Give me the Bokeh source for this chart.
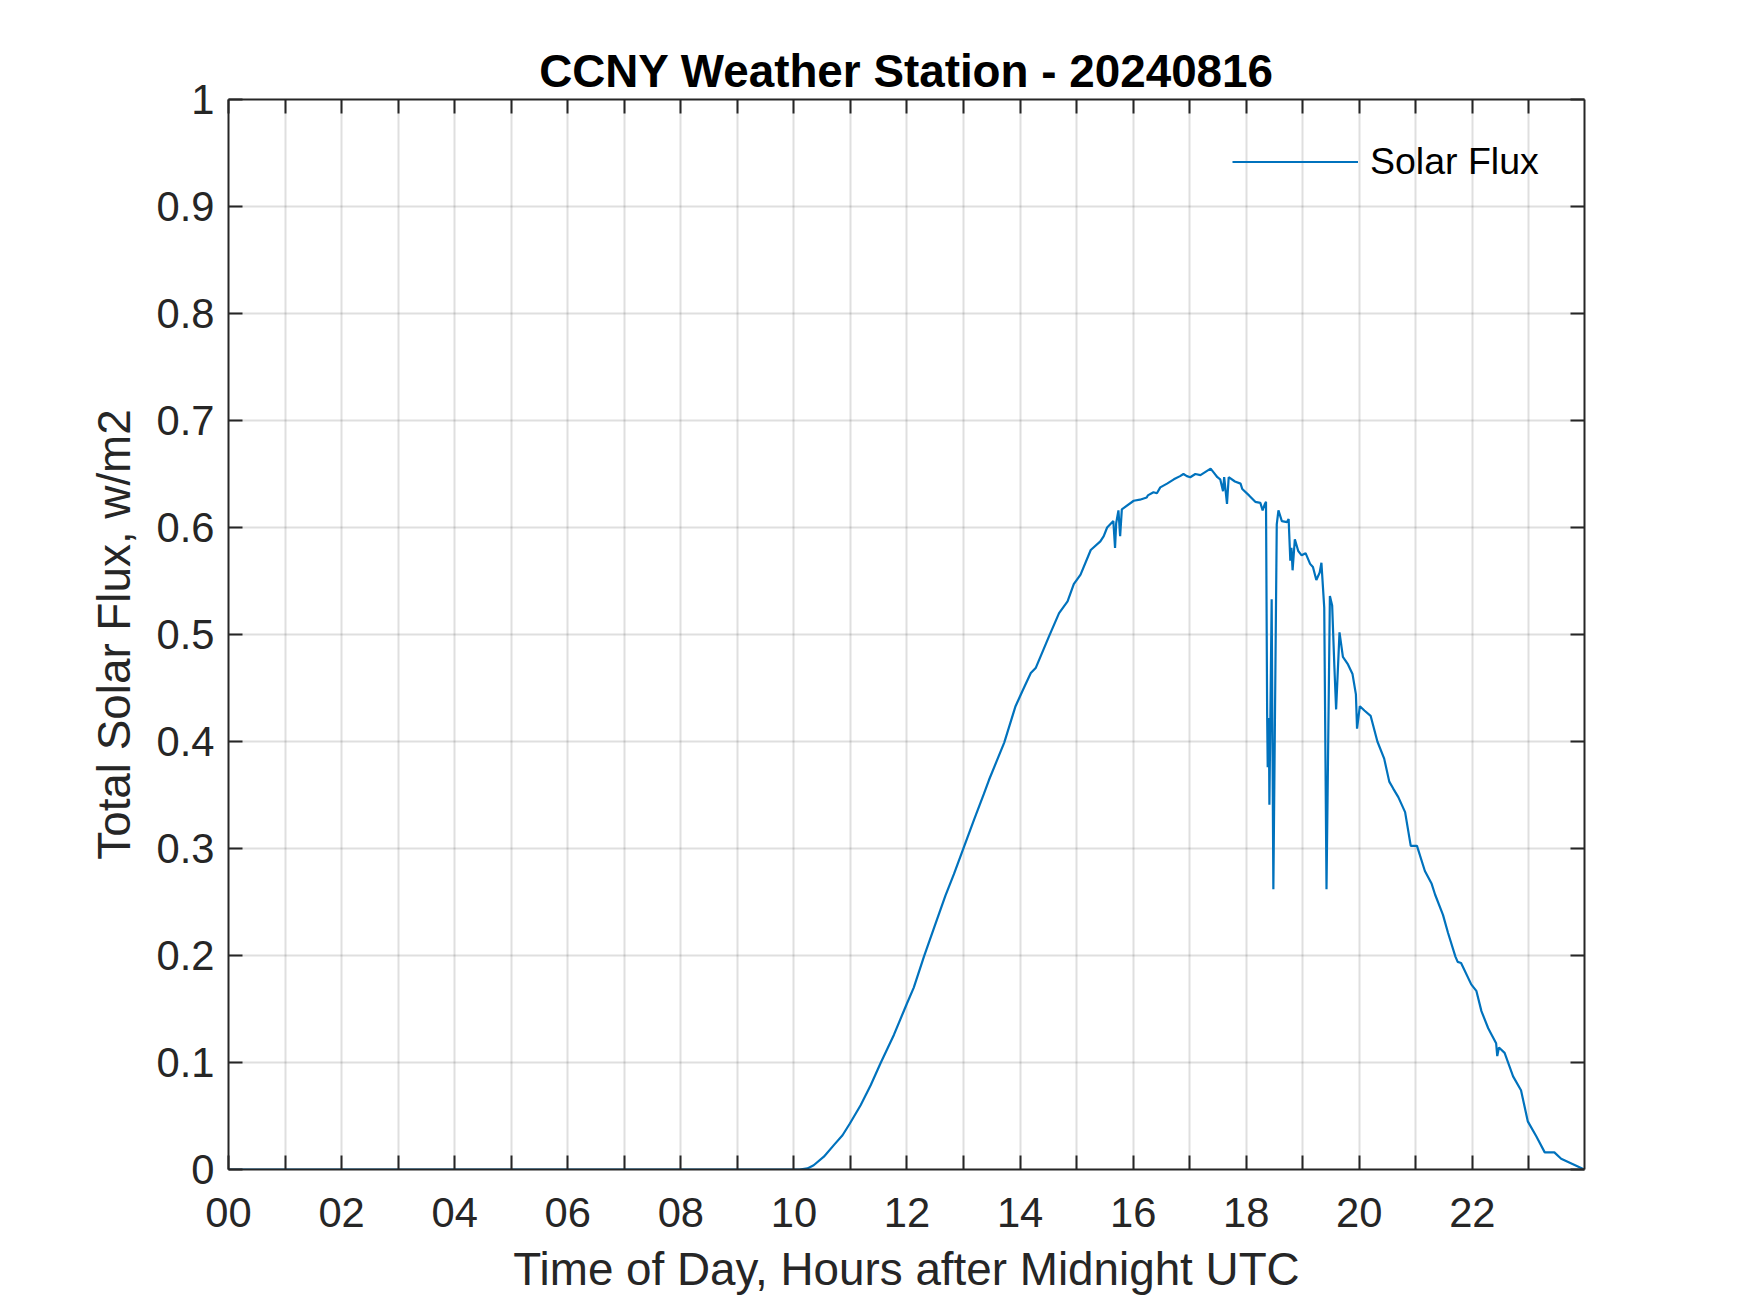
from bokeh.plotting import figure
from bokeh.models import (Range1d, LinearAxis, FixedTicker, CustomJSTickFormatter,
                          Legend, LegendItem, Title)
from bokeh.embed import file_html
from bokeh.resources import INLINE

# ---- data (hours after midnight UTC, total solar flux) ----
hours = [0.0, 10.10, 10.24, 10.35, 10.53, 10.71, 10.86, 10.99, 11.18, 11.36, 11.53,
         11.77, 11.99, 12.12, 12.30, 12.48, 12.68, 12.83, 12.99, 13.19, 13.36,
         13.45, 13.72, 13.92, 14.04, 14.19, 14.28, 14.51, 14.69, 14.84, 14.95,
         15.07, 15.25, 15.42, 15.48, 15.54, 15.65,
         15.68, 15.70, 15.74, 15.77, 15.80, 16.01, 16.12, 16.24, 16.26, 16.36,
         16.42, 16.48, 16.60, 16.72, 16.83, 16.89, 16.95, 17.01, 17.10, 17.19,
         17.28, 17.37, 17.43, 17.49, 17.54, 17.59, 17.61, 17.66, 17.69, 17.80,
         17.90, 17.93, 18.05, 18.16, 18.25, 18.29, 18.33, 18.35, 18.37, 18.38,
         18.40, 18.41, 18.45, 18.48, 18.54, 18.57, 18.63, 18.72, 18.75, 18.78,
         18.80, 18.82, 18.86, 18.92, 18.98, 19.05, 19.13, 19.18, 19.24, 19.30,
         19.33, 19.38, 19.42, 19.48, 19.52, 19.56, 19.59, 19.65, 19.71, 19.80,
         19.88, 19.94, 19.96, 20.01, 20.09, 20.20, 20.32, 20.44, 20.53, 20.60,
         20.69, 20.81, 20.91, 20.98, 21.02, 21.16, 21.28, 21.34, 21.48, 21.57,
         21.70, 21.74, 21.80, 21.98, 22.07, 22.16, 22.28, 22.34, 22.42, 22.44,
         22.47, 22.57, 22.72, 22.86, 22.98, 23.13, 23.28, 23.45, 23.57, 23.98]
flux = [0.0, 0.0, 0.001, 0.004, 0.012, 0.023, 0.032, 0.043, 0.060, 0.079, 0.099,
        0.126, 0.154, 0.170, 0.199, 0.226, 0.256, 0.276, 0.299, 0.3275, 0.351,
        0.364, 0.399, 0.433, 0.447, 0.464, 0.469, 0.498, 0.520, 0.531, 0.547,
        0.556, 0.579, 0.587, 0.592, 0.600, 0.606,
        0.581, 0.604, 0.616, 0.592, 0.617, 0.625, 0.626, 0.628, 0.630, 0.633,
        0.632, 0.6375, 0.641, 0.645, 0.648, 0.650, 0.648, 0.647, 0.650, 0.649,
        0.652, 0.655, 0.651, 0.647, 0.645, 0.634, 0.647, 0.622, 0.647, 0.643,
        0.641, 0.636, 0.630, 0.624, 0.623, 0.616, 0.622, 0.624, 0.426, 0.376,
        0.422, 0.341, 0.533, 0.262, 0.603, 0.616, 0.606, 0.605, 0.608, 0.569,
        0.581, 0.560, 0.589, 0.578, 0.574, 0.576, 0.566, 0.563, 0.551, 0.558,
        0.567, 0.525, 0.262, 0.536, 0.527, 0.469, 0.430, 0.502, 0.479, 0.472,
        0.463, 0.444, 0.412, 0.433, 0.429, 0.424, 0.400, 0.384, 0.3625, 0.356,
        0.348, 0.334, 0.3025, 0.3025, 0.3025, 0.279, 0.267, 0.257, 0.238, 0.221,
        0.199, 0.194, 0.193, 0.173, 0.167, 0.148, 0.132, 0.126, 0.118, 0.106,
        0.114, 0.109, 0.087, 0.074, 0.045, 0.031, 0.016, 0.016, 0.010, 0.0]

x_start, x_end = 0.0, 23.983
x_ticks = list(range(0, 24))
x_label_ticks = list(range(0, 24, 2))
x_minor_ticks = list(range(1, 24, 2))
y_ticks = [0.0, 0.1, 0.2, 0.3, 0.4, 0.5, 0.6, 0.7, 0.8, 0.9, 1.0]
title_text = "CCNY Weather Station - 20240816"
x_label = "Time of Day, Hours after Midnight UTC"
y_label = "Total Solar Flux, w/m2"
series_name = "Solar Flux"

FONT = "Liberation Sans"
AX = "#262626"
BLUE = "#0072BD"

p = figure(width=1734, height=1297, output_backend="svg", toolbar_location=None,
           x_range=Range1d(x_start, x_end), y_range=Range1d(0, 1),
           min_border_left=228, min_border_right=150, min_border_top=99,
           min_border_bottom=128, title=None)
p.outline_line_color = None
p.background_fill_color = "white"
p.border_fill_color = "white"

xfmt = CustomJSTickFormatter(code="""
return String(Math.round(tick)).padStart(2, '0');
""")
yfmt = CustomJSTickFormatter(code="""
return tick.toFixed(1).replace(/\\.0$/, '');
""")

def style_axis(ax):
    ax.axis_line_color = AX
    ax.axis_line_width = 2
    for kind in ("major", "minor"):
        setattr(ax, kind + "_tick_line_color", AX)
        setattr(ax, kind + "_tick_line_width", 2)
        setattr(ax, kind + "_tick_in", 14)
        setattr(ax, kind + "_tick_out", 0)
    ax.major_label_text_font = FONT
    ax.major_label_text_color = AX
    ax.major_label_text_font_size = "41.7px"

def style_label(ax, text):
    ax.axis_label = text
    ax.axis_label_text_font = FONT
    ax.axis_label_text_font_size = "45.8px"
    ax.axis_label_text_font_style = "normal"
    ax.axis_label_text_color = AX

xa = p.xaxis[0]
xa.ticker = FixedTicker(ticks=x_label_ticks, minor_ticks=x_minor_ticks)
xa.formatter = xfmt
style_axis(xa)
xa.major_label_standoff = 28
style_label(xa, x_label)
xa.axis_label_standoff = 14

ya = p.yaxis[0]
ya.ticker = FixedTicker(ticks=y_ticks)
ya.formatter = yfmt
style_axis(ya)
ya.minor_tick_line_color = None
ya.major_label_standoff = 14
style_label(ya, y_label)
ya.axis_label_standoff = 14

# box axes (ticks only, no labels) on top and right
top = LinearAxis(ticker=FixedTicker(ticks=[], minor_ticks=x_ticks))
style_axis(top)
p.add_layout(top, "above")
right = LinearAxis(ticker=FixedTicker(ticks=[], minor_ticks=y_ticks))
style_axis(right)
p.add_layout(right, "right")

p.add_layout(Title(text=title_text, align="center", text_font=FONT,
                   text_font_size="45.8px", text_font_style="bold",
                   text_color="black", standoff=6), "above")

for g in (p.xgrid[0], p.ygrid[0]):
    g.grid_line_color = AX
    g.grid_line_alpha = 0.15
    g.grid_line_width = 2
p.xgrid[0].ticker = FixedTicker(ticks=x_ticks)
p.ygrid[0].ticker = FixedTicker(ticks=y_ticks)

r = p.line(hours, flux, line_color=BLUE, line_width=2.2)

legend = Legend(items=[LegendItem(label=series_name, renderers=[r])],
                location="top_right", margin=41, padding=10,
                glyph_width=126, glyph_height=31, label_height=31,
                label_width=173, label_standoff=12, label_text_font=FONT,
                label_text_font_size="37.5px", label_text_color="black",
                background_fill_alpha=0, border_line_color=None)
p.add_layout(legend, "center")

open("out.html", "w").write(file_html(p, INLINE))
